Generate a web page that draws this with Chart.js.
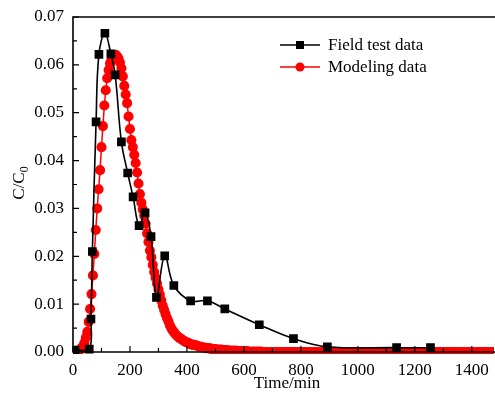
<!DOCTYPE html>
<html>
<head>
<meta charset="utf-8">
<script src="https://cdn.jsdelivr.net/npm/chart.js@4.4.0/dist/chart.umd.min.js"></script>
<style>
  html, body { margin: 0; padding: 0; background: #fff; }
</style>
</head>
<body>
<canvas id="chart" width="495" height="393"></canvas>
<script>
// field test points (black squares)
const fieldTime = [7, 57, 63, 68, 81, 91, 112, 133, 148, 170, 192, 211, 232, 253, 274, 293, 322, 354, 413, 472, 533, 654, 774, 893, 1136, 1255];
const fieldConc = [0.0004, 0.0006, 0.0069, 0.0210, 0.0481, 0.0622, 0.0666, 0.0623, 0.0579, 0.0439, 0.0374, 0.0324, 0.0264, 0.0291, 0.0241, 0.0114, 0.0201, 0.0139, 0.0107, 0.0107, 0.0090, 0.0057, 0.0028, 0.0011, 0.0009, 0.0009];

// modeling curve (red circles)
const modelTime = [
  0, 5, 10, 15, 20, 25, 30, 35, 40, 45, 50, 55, 60, 65, 70, 75, 80, 85, 90, 95,
  100, 105, 110, 115, 120, 125, 130, 135, 140, 145, 150, 155, 160, 165, 170, 175, 180, 185, 190, 195,
  200, 205, 210, 215, 220, 225, 230, 235, 240, 245, 250, 255, 260, 265, 270, 275, 280, 285, 290, 295,
  300, 305, 310, 315, 320, 325, 330, 335, 340, 345, 350, 355, 360, 365, 370, 375, 380, 385, 390, 395,
  400, 405, 410, 415, 420, 425, 430, 435, 440, 445, 450, 455, 460, 465, 470, 475, 480, 485, 490, 495,
  500, 510, 520, 530, 540, 550, 560, 570, 580, 590, 600, 610, 620, 630, 640, 650, 660, 670, 680, 690,
  700, 710, 720, 730, 740, 750, 760, 770, 780, 790, 800, 810, 820, 830, 840, 850, 860, 870, 880, 890,
  900, 910, 920, 930, 940, 950, 960, 970, 980, 990, 1000, 1010, 1020, 1030, 1040, 1050, 1060, 1070, 1080, 1090,
  1100, 1110, 1120, 1130, 1140, 1150, 1160, 1170, 1180, 1190, 1200, 1210, 1220, 1230, 1240, 1250, 1260, 1270, 1280, 1290,
  1300, 1310, 1320, 1330, 1340, 1350, 1360, 1370, 1380, 1390, 1400, 1410, 1420, 1430, 1440, 1450, 1460, 1470, 1480
];
const modelConc = [
  0, 0, 0.0001, 0.0002, 0.0003, 0.0005, 0.0008, 0.0012, 0.0019, 0.0030, 0.0042, 0.0063, 0.0090, 0.0121, 0.0160, 0.0205, 0.0255, 0.0300, 0.0340, 0.0380,
  0.0428, 0.0472, 0.0515, 0.0547, 0.0572, 0.0589, 0.0603, 0.0610, 0.0615, 0.0620, 0.0621, 0.0618, 0.0613, 0.0605, 0.0593, 0.0576, 0.0556, 0.0538, 0.0520, 0.0492,
  0.0466, 0.0443, 0.0428, 0.0412, 0.0395, 0.0375, 0.0352, 0.0330, 0.0312, 0.0298, 0.0285, 0.0268, 0.0248, 0.0230, 0.0212, 0.0198, 0.0182, 0.0167, 0.0155, 0.0143,
  0.0131, 0.0120, 0.0108, 0.0097, 0.0088, 0.0079, 0.0071, 0.0064, 0.0056, 0.0050, 0.0045, 0.0041, 0.0037, 0.0034, 0.0031, 0.0029, 0.0027, 0.0025, 0.0023, 0.0021,
  0.0020, 0.0019, 0.0017, 0.0016, 0.0015, 0.0015, 0.0014, 0.0013, 0.0012, 0.0011, 0.0011, 0.0010, 0.0009, 0.0009, 0.0008, 0.0008, 0.0007, 0.0007, 0.0006, 0.0006,
  0.0006, 0.0005, 0.0005, 0.0004, 0.0004, 0.0003, 0.0003, 0.0003, 0.0002, 0.0002, 0.0002, 0.0002, 0.0001, 0.0001, 0.0001, 0.0001, 0.0001, 0, 0, 0,
  0, 0, 0, 0, 0, 0, 0, 0, 0, 0, 0, 0, 0, 0, 0, 0, 0, 0, 0, 0,
  0, 0, 0, 0, 0, 0, 0, 0, 0, 0, 0, 0, 0, 0, 0, 0, 0, 0, 0, 0,
  0, 0, 0, 0, 0, 0, 0, 0, 0, 0, 0, 0, 0, 0, 0, 0, 0, 0, 0, 0,
  0, 0, 0, 0, 0, 0, 0, 0, 0, 0, 0, 0, 0, 0, 0, 0, 0, 0, 0
];

const xTicks = [0, 200, 400, 600, 800, 1000, 1200, 1400];
const xMinor = [100, 300, 500, 700, 900, 1100, 1300];
const yTicks = [0, 0.01, 0.02, 0.03, 0.04, 0.05, 0.06, 0.07];
const yMinor = [0.005, 0.015, 0.025, 0.035, 0.045, 0.055, 0.065];

const FONT = "'Liberation Serif', 'Times New Roman', serif";

// frame, inward ticks, axis titles and legend
const decor = {
  id: 'decor',
  afterDraw(chart) {
    const {ctx, chartArea: a, scales: {x, y}} = chart;
    ctx.save();
    ctx.strokeStyle = '#000';
    ctx.lineWidth = 1.6;
    ctx.beginPath();
    ctx.moveTo(chart.width, a.top);
    ctx.lineTo(a.left, a.top);
    ctx.lineTo(a.left, a.bottom);
    ctx.lineTo(chart.width, a.bottom);
    ctx.stroke();

    ctx.lineWidth = 1.2;
    ctx.beginPath();
    xTicks.forEach(v => { const px = x.getPixelForValue(v); ctx.moveTo(px, a.bottom); ctx.lineTo(px, a.bottom - 6); });
    xMinor.forEach(v => { const px = x.getPixelForValue(v); ctx.moveTo(px, a.bottom); ctx.lineTo(px, a.bottom - 4); });
    yTicks.forEach(v => { const py = y.getPixelForValue(v); ctx.moveTo(a.left, py); ctx.lineTo(a.left + 6, py); });
    yMinor.forEach(v => { const py = y.getPixelForValue(v); ctx.moveTo(a.left, py); ctx.lineTo(a.left + 4, py); });
    ctx.stroke();

    // axis titles
    ctx.fillStyle = '#000';
    ctx.font = '17px ' + FONT;
    ctx.textAlign = 'center';
    ctx.textBaseline = 'middle';
    ctx.fillText('Time/min', 287, 384);

    ctx.save();
    ctx.translate(20, 183);
    ctx.rotate(-Math.PI / 2);
    ctx.textAlign = 'left';
    ctx.textBaseline = 'middle';
    const main = 'C/C';
    const w = ctx.measureText(main).width;
    ctx.font = '12px ' + FONT;
    const sw = ctx.measureText('0').width;
    ctx.font = '17px ' + FONT;
    const start = -(w + sw) / 2;
    ctx.fillText(main, start, 0);
    ctx.font = '12px ' + FONT;
    ctx.fillText('0', start + w, 5);
    ctx.restore();

    // legend
    const rows = [
      {ds: chart.data.datasets[0], y: 45},
      {ds: chart.data.datasets[1], y: 67}
    ];
    rows.forEach(r => {
      ctx.strokeStyle = r.ds.borderColor;
      ctx.lineWidth = 1.6;
      ctx.beginPath();
      ctx.moveTo(280, r.y);
      ctx.lineTo(320, r.y);
      ctx.stroke();
      ctx.fillStyle = r.ds.pointBackgroundColor;
      ctx.beginPath();
      if (r.ds.pointStyle === 'rect') {
        ctx.rect(296, r.y - 4, 8, 8);
      } else {
        ctx.arc(300, r.y, 4.5, 0, Math.PI * 2);
      }
      ctx.fill();
      ctx.fillStyle = '#000';
      ctx.font = '17px ' + FONT;
      ctx.textAlign = 'left';
      ctx.textBaseline = 'middle';
      ctx.fillText(r.ds.label, 328, r.y + 1);
    });
    ctx.restore();
  }
};

new Chart(document.getElementById('chart'), {
  type: 'line',
  data: {
    datasets: [
      {
        label: 'Field test data',
        data: fieldTime.map((t, i) => ({x: t, y: fieldConc[i]})),
        borderColor: '#000',
        backgroundColor: '#000',
        pointBackgroundColor: '#000',
        pointBorderColor: '#000',
        pointStyle: 'rect',
        pointRadius: 5,
        borderWidth: 1.6,
        tension: 0.4,
        clip: {left: 0, right: 0, top: 6, bottom: 2}
      },
      {
        label: 'Modeling data',
        data: modelTime.map((t, i) => ({x: t, y: modelConc[i]})),
        borderColor: '#ff0000',
        backgroundColor: '#ff0000',
        pointBackgroundColor: '#ff0000',
        pointBorderColor: '#ff0000',
        pointStyle: 'circle',
        pointRadius: 4.3,
        borderWidth: 1.5,
        tension: 0,
        clip: {left: 0, right: 0, top: 6, bottom: 2}
      }
    ]
  },
  options: {
    responsive: false,
    animation: false,
    devicePixelRatio: 1,
    layout: {autoPadding: false, padding: {top: 17, right: 1, left: 0, bottom: 0}},
    plugins: {legend: {display: false}, tooltip: {enabled: false}},
    scales: {
      x: {
        type: 'linear',
        min: 0,
        max: 1478,
        afterBuildTicks: s => { s.ticks = xTicks.map(v => ({value: v})); },
        afterFit: s => { s.height = 41; s.paddingLeft = 0; s.paddingRight = 0; },
        grid: {display: false, drawTicks: false},
        border: {display: false},
        ticks: {
          color: '#000',
          padding: 8,
          maxRotation: 0,
          font: {family: FONT, size: 17},
          callback: v => String(v)
        }
      },
      y: {
        type: 'linear',
        min: 0,
        max: 0.07,
        afterBuildTicks: s => { s.ticks = yTicks.map(v => ({value: v})); },
        afterFit: s => { s.width = 73; s.paddingTop = 0; s.paddingBottom = 0; },
        grid: {display: false, drawTicks: false},
        border: {display: false},
        ticks: {
          color: '#000',
          padding: 9,
          font: {family: FONT, size: 17},
          callback: v => v.toFixed(2)
        }
      }
    }
  },
  plugins: [decor]
});
</script>
</body>
</html>
